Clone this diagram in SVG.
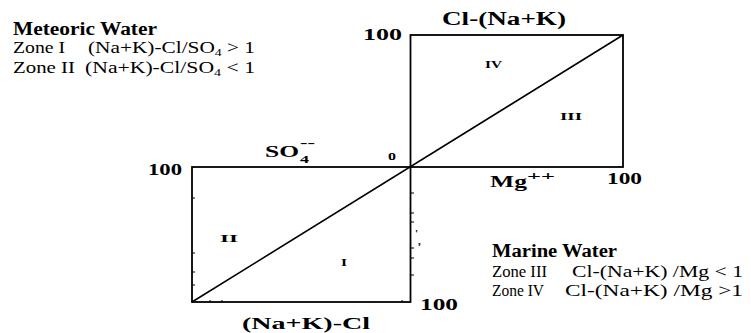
<svg xmlns="http://www.w3.org/2000/svg" width="751" height="333" viewBox="0 0 751 333">
  <style>
    .t { font-family: "Liberation Serif", "Times New Roman", serif; fill: #000; }
    .b { font-weight: bold; }
    .frame { fill: none; stroke: #000; stroke-width: 1.8; }
    .line { fill: none; stroke: #000; stroke-width: 1.6; }
    .tick { fill: none; stroke: #000; stroke-width: 1; }
  </style>
  <rect width="751" height="333" fill="#fff"/>

  <g id="meteoric-legend">
    <text class="t b" x="13" y="35" font-size="18" textLength="144" lengthAdjust="spacingAndGlyphs">Meteoric Water</text>
    <text class="t" x="13" y="53" font-size="17" textLength="52" lengthAdjust="spacingAndGlyphs">Zone I</text>
    <text class="t" x="88" y="53" font-size="17" textLength="167" lengthAdjust="spacingAndGlyphs">(Na+K)-Cl/SO<tspan font-size="11" dy="3">4</tspan><tspan dy="-3"> &gt; 1</tspan></text>
    <text class="t" x="13" y="73" font-size="17" textLength="62" lengthAdjust="spacingAndGlyphs">Zone II</text>
    <text class="t" x="85" y="73" font-size="17" textLength="170" lengthAdjust="spacingAndGlyphs">(Na+K)-Cl/SO<tspan font-size="11" dy="3">4</tspan><tspan dy="-3"> &lt; 1</tspan></text>
  </g>

  <g id="marine-legend">
    <text class="t b" x="492" y="257" font-size="18" textLength="125" lengthAdjust="spacingAndGlyphs">Marine Water</text>
    <text class="t" x="492" y="277" font-size="17" textLength="55" lengthAdjust="spacingAndGlyphs">Zone III</text>
    <text class="t" x="572" y="277" font-size="17" textLength="171" lengthAdjust="spacingAndGlyphs">Cl-(Na+K) /Mg &lt; 1</text>
    <text class="t" x="492" y="296" font-size="17" textLength="52" lengthAdjust="spacingAndGlyphs">Zone IV</text>
    <text class="t" x="565" y="296" font-size="17" textLength="178" lengthAdjust="spacingAndGlyphs">Cl-(Na+K) /Mg  &gt;1</text>
  </g>

  <g id="frame">
    <rect class="frame" x="410.5" y="35" width="212.5" height="132"/>
    <rect class="frame" x="192" y="167" width="218.5" height="135"/>
    <path class="tick" d="M411,193 h3 M411,213 h3 M411,222 h3 M411,248 h3 M411,258 h3 M411,275 h3 M402,302 v-2 M192,198 h3 M192,253 h3 M192,272 h3 M192,285 h3 M210,302 v-2 M222,302 v-2"/>
  </g>

  <g id="connectors">
    <line class="line" x1="192" y1="302" x2="623" y2="35"/>
  </g>

  <g id="axis-labels">
    <text class="t b" x="442" y="25" font-size="18" textLength="124" lengthAdjust="spacingAndGlyphs">Cl-(Na+K)</text>
    <text class="t b" x="363" y="40" font-size="17" textLength="39" lengthAdjust="spacingAndGlyphs">100</text>
    <text class="t b" x="265" y="157" font-size="17" textLength="34" lengthAdjust="spacingAndGlyphs">SO</text>
    <text class="t b" x="300" y="163" font-size="11" textLength="9" lengthAdjust="spacingAndGlyphs">4</text>
    <text class="t b" x="300" y="147" font-size="12" textLength="15" lengthAdjust="spacingAndGlyphs">--</text>
    <text class="t b" x="388" y="160" font-size="14" textLength="8" lengthAdjust="spacingAndGlyphs">o</text>
    <text class="t b" x="148" y="175" font-size="17" textLength="34" lengthAdjust="spacingAndGlyphs">100</text>
    <text class="t b" x="490" y="187" font-size="17" textLength="37" lengthAdjust="spacingAndGlyphs">Mg</text>
    <text class="t b" x="527" y="180" font-size="12" textLength="28" lengthAdjust="spacingAndGlyphs">++</text>
    <text class="t b" x="607" y="184" font-size="17" textLength="35" lengthAdjust="spacingAndGlyphs">100</text>
    <text class="t b" x="420" y="310" font-size="17" textLength="38" lengthAdjust="spacingAndGlyphs">100</text>
    <text class="t b" x="242" y="329" font-size="17" textLength="128" lengthAdjust="spacingAndGlyphs">(Na+K)-Cl</text>
    <text class="t b" x="415" y="237" font-size="11">'</text>
    <text class="t b" x="418" y="245" font-size="11">,</text>
  </g>

  <g id="zones">
    <text class="t b" x="485" y="68" font-size="11" textLength="17" lengthAdjust="spacingAndGlyphs">IV</text>
    <text class="t b" x="560" y="120" font-size="11" textLength="22" lengthAdjust="spacingAndGlyphs">III</text>
    <text class="t b" x="220" y="242" font-size="11" textLength="18" lengthAdjust="spacingAndGlyphs">II</text>
    <text class="t b" x="341" y="266" font-size="11" textLength="6" lengthAdjust="spacingAndGlyphs">I</text>
  </g>
</svg>
